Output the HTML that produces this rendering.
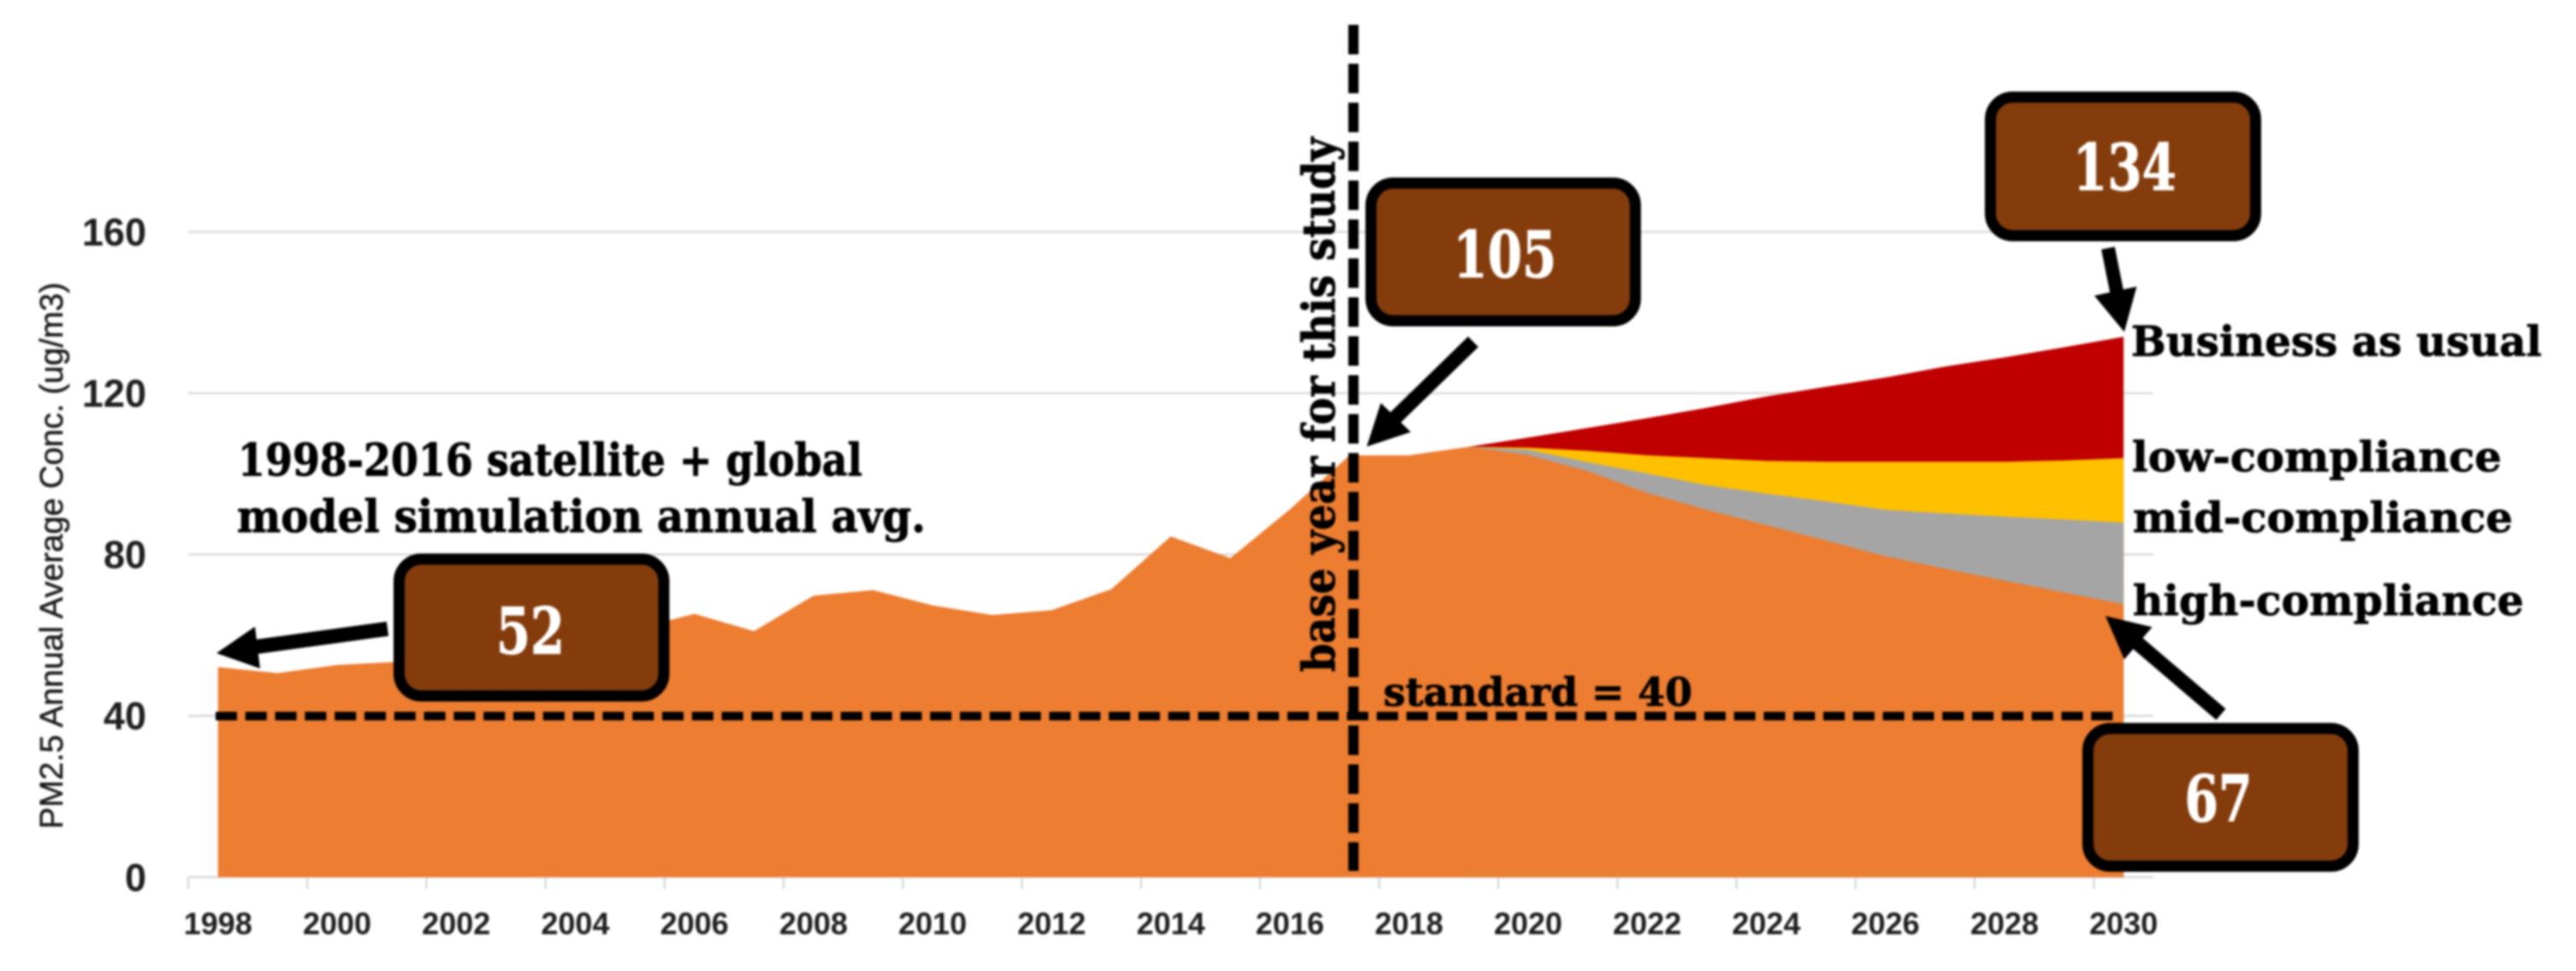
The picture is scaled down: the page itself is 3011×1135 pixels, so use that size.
<!DOCTYPE html>
<html lang="en">
<head>
<meta charset="utf-8">
<title>PM2.5 Annual Average Concentration</title>
<style>
html,body{margin:0;padding:0;background:#fff;width:3011px;height:1135px;overflow:hidden}
svg{display:block;filter:blur(1.2px)}
.tick{font-family:"Liberation Sans",sans-serif;font-weight:700;fill:#1f1f1f}
.slab{font-family:"DejaVu Serif","Liberation Serif",serif;font-weight:700;fill:#000;stroke:#000;stroke-width:.8px}
.num{font-family:"DejaVu Serif","Liberation Serif",serif;font-weight:700;fill:#fff;stroke:#fff;stroke-width:1px;font-size:75px;text-anchor:middle}
</style>
</head>
<body>
<svg id="chart" xmlns="http://www.w3.org/2000/svg" width="3011" height="1135" viewBox="0 0 3011 1135">
  <rect x="0" y="0" width="3011" height="1135" fill="#ffffff"/>
  <g id="grid-layer"></g>
  <g id="area-layer"></g>
  <g id="axis-layer"></g>

  <text transform="translate(73,969) rotate(-90)" font-family="'Liberation Sans',sans-serif" font-size="38" fill="#1a1a1a" stroke="#1a1a1a" stroke-width=".5" textLength="639" lengthAdjust="spacingAndGlyphs">PM2.5 Annual Average Conc. (ug/m3)</text>

  <line x1="252" y1="837" x2="2478" y2="837" stroke="#000" stroke-width="10" stroke-dasharray="25 9.8"/>
  <line x1="1582" y1="29" x2="1582" y2="1018" stroke="#000" stroke-width="12" stroke-dasharray="34.5 11"/>

  <text class="slab" x="278" y="556" font-size="52" textLength="730" lengthAdjust="spacingAndGlyphs">1998-2016 satellite + global</text>
  <text class="slab" x="277" y="622" font-size="52" textLength="805" lengthAdjust="spacingAndGlyphs">model simulation annual avg.</text>
  <text class="slab" transform="translate(1560,785.5) rotate(-90)" font-size="52" textLength="625" lengthAdjust="spacingAndGlyphs">base year for this study</text>
  <text class="slab" x="1617" y="825" font-size="46" textLength="361" lengthAdjust="spacingAndGlyphs">standard = 40</text>
  <text class="slab" x="2491" y="416" font-size="49" textLength="480" lengthAdjust="spacingAndGlyphs">Business as usual</text>
  <text class="slab" x="2492" y="551" font-size="49" textLength="432" lengthAdjust="spacingAndGlyphs">low-compliance</text>
  <text class="slab" x="2493" y="622" font-size="49" textLength="444" lengthAdjust="spacingAndGlyphs">mid-compliance</text>
  <text class="slab" x="2493" y="719" font-size="49" textLength="457" lengthAdjust="spacingAndGlyphs">high-compliance</text>

  <g>
    <line x1="453" y1="735" x2="285" y2="758" stroke="#000" stroke-width="17"/>
    <polygon points="253,763.5 298,732.5 304,781.4" fill="#000"/>
  </g>
  <g>
    <line x1="1722" y1="399.5" x2="1625" y2="494" stroke="#000" stroke-width="17"/>
    <polygon points="1597.5,522 1614,471 1649,505" fill="#000"/>
  </g>
  <g>
    <line x1="2464" y1="290" x2="2475" y2="345" stroke="#000" stroke-width="16"/>
    <polygon points="2483,388 2448,345.6 2497.5,335" fill="#000"/>
  </g>
  <g>
    <line x1="2596" y1="835" x2="2494" y2="748" stroke="#000" stroke-width="17"/>
    <polygon points="2461,720 2515.6,733 2483,770.7" fill="#000"/>
  </g>

  <g>
    <rect x="466.5" y="653.5" width="309.5" height="160" rx="26" fill="#843C0C" stroke="#000" stroke-width="13"/>
    <text class="num" x="620" y="764" textLength="80" lengthAdjust="spacingAndGlyphs">52</text>
  </g>
  <g>
    <rect x="1602.5" y="214" width="309" height="161" rx="26" fill="#843C0C" stroke="#000" stroke-width="13"/>
    <text class="num" x="1759" y="324" textLength="121" lengthAdjust="spacingAndGlyphs">105</text>
  </g>
  <g>
    <rect x="2326.5" y="113.5" width="310" height="162" rx="26" fill="#843C0C" stroke="#000" stroke-width="13"/>
    <text class="num" x="2483.5" y="222" textLength="121" lengthAdjust="spacingAndGlyphs">134</text>
  </g>
  <g>
    <rect x="2440.5" y="851.5" width="310" height="161" rx="26" fill="#843C0C" stroke="#000" stroke-width="13"/>
    <text class="num" x="2593" y="960" textLength="79" lengthAdjust="spacingAndGlyphs">67</text>
  </g>
</svg>
<script>
const allYears = [1998,1999,2000,2001,2002,2003,2004,2005,2006,2007,2008,2009,2010,2011,2012,2013,2014,2015,2016,2017,2018,2019,2020,2021,2022,2023,2024,2025,2026,2027,2028,2029,2030];
const highCompliance = [52.1,50.6,52.6,53.4,54.5,56,58,61.5,65.3,61,69.8,71.2,67.4,65,66.2,71.4,84.5,79.1,91.2,104.6,104.6,106.7,104.7,100.7,95.3,91.1,87.3,83.5,79.6,76.5,73.5,70.6,67.7];
const scenarioYears = [2019,2020,2021,2022,2023,2024,2025,2026,2027,2028,2029,2030];
const midCompliance = [106.7,106,102.9,100.1,97.2,95.1,93.2,91.1,90.2,89.4,88.7,87.9];
const lowCompliance = [106.7,106.5,105.7,104.6,103.9,103.2,103,103,103,103,103.3,103.9];
const businessAsUsual = [106.7,109,111.4,113.8,116.4,119.2,121.6,123.9,126.6,128.9,131.4,134];
const yTicks = [0,40,80,120,160];
const xTickYears = [1998,2000,2002,2004,2006,2008,2010,2012,2014,2016,2018,2020,2022,2024,2026,2028,2030];

const NS = 'http://www.w3.org/2000/svg';
const plotLeft = 220, plotRight = 2517, zeroY = 1025.3, pxPerUnit = 4.714;
const band = (plotRight - plotLeft) / allYears.length;
function xScale(year) { return plotLeft + (year - allYears[0] + 0.5) * band; }
function yScale(value) { return zeroY - value * pxPerUnit; }
function areaPath(years, values) {
  let d = 'M' + xScale(years[0]).toFixed(1) + ' ' + yScale(0).toFixed(1);
  years.forEach(function (yr, i) { d += 'L' + xScale(yr).toFixed(1) + ' ' + yScale(values[i]).toFixed(1); });
  d += 'L' + xScale(years[years.length - 1]).toFixed(1) + ' ' + yScale(0).toFixed(1) + 'Z';
  return d;
}

const gridLayer = document.getElementById('grid-layer');
const areaLayer = document.getElementById('area-layer');
const axisLayer = document.getElementById('axis-layer');

yTicks.forEach(function (v) {
  const line = document.createElementNS(NS, 'line');
  
  
  line.setAttribute('x1', plotLeft);
  line.setAttribute('x2', plotRight);
  line.setAttribute('y1', yScale(v));
  line.setAttribute('y2', yScale(v));
  line.setAttribute('stroke', '#d9d9d9');
  line.setAttribute('stroke-width', '2.5');
  gridLayer.appendChild(line);

  const label = document.createElementNS(NS, 'text');
  
  
  label.setAttribute('class', 'tick');
  label.setAttribute('x', 171);
  label.setAttribute('y', yScale(v) + 16);
  label.setAttribute('text-anchor', 'end');
  label.setAttribute('font-size', '45');
  label.textContent = String(v);
  axisLayer.appendChild(label);
});

xTickYears.forEach(function (yr) {
  const tick = document.createElementNS(NS, 'line');
  
  
  tick.setAttribute('x1', xScale(yr) - band / 2);
  tick.setAttribute('x2', xScale(yr) - band / 2);
  tick.setAttribute('y1', yScale(0));
  tick.setAttribute('y2', yScale(0) + 14);
  tick.setAttribute('stroke', '#d9d9d9');
  tick.setAttribute('stroke-width', '2.5');
  gridLayer.appendChild(tick);

  const label = document.createElementNS(NS, 'text');
  
  
  label.setAttribute('class', 'tick');
  label.setAttribute('x', xScale(yr));
  label.setAttribute('y', 1092);
  label.setAttribute('text-anchor', 'middle');
  label.setAttribute('font-size', '36');
  label.textContent = String(yr);
  axisLayer.appendChild(label);
});

const redArea = document.createElementNS(NS, 'path');


redArea.setAttribute('d', areaPath(scenarioYears, businessAsUsual));
redArea.setAttribute('fill', '#C00000');
areaLayer.appendChild(redArea);

const yellowArea = document.createElementNS(NS, 'path');


yellowArea.setAttribute('d', areaPath(scenarioYears, lowCompliance));
yellowArea.setAttribute('fill', '#FFC000');
areaLayer.appendChild(yellowArea);

const grayArea = document.createElementNS(NS, 'path');


grayArea.setAttribute('d', areaPath(scenarioYears, midCompliance));
grayArea.setAttribute('fill', '#A5A5A5');
areaLayer.appendChild(grayArea);

const orangeArea = document.createElementNS(NS, 'path');


orangeArea.setAttribute('d', areaPath(allYears, highCompliance));
orangeArea.setAttribute('fill', '#ED7D31');
areaLayer.appendChild(orangeArea);
</script>
</body>
</html>
